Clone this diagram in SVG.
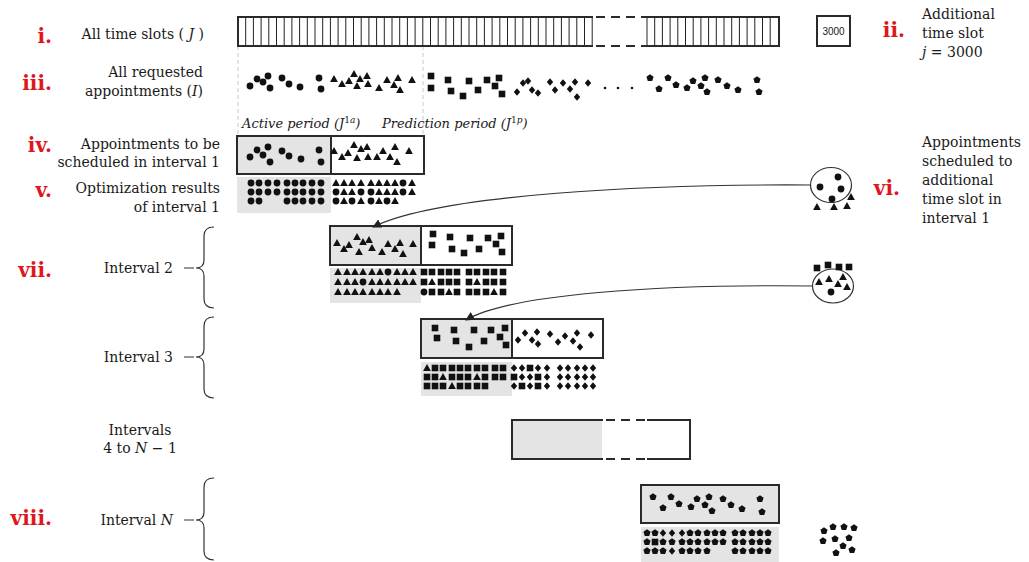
<svg xmlns="http://www.w3.org/2000/svg" xmlns:xlink="http://www.w3.org/1999/xlink" width="1029" height="562" viewBox="0 0 1029 562">
<style>
.lbl{font-family:"DejaVu Serif","Liberation Serif",serif;font-size:14px;fill:#1a1a1a}
.it{font-style:italic}
.red{font-family:"DejaVu Serif","Liberation Serif",serif;font-size:20px;font-weight:bold;fill:#e0161d}
.box{fill:none;stroke:#2a2a2a;stroke-width:2}
.grey{fill:#e4e4e4;stroke:none}
.tick{stroke:#222;stroke-width:1;fill:none}
.dash{stroke:#2a2a2a;stroke-width:2;stroke-dasharray:9 6;fill:none}
.guide{stroke:#c8c8c8;stroke-width:1;stroke-dasharray:4 3;fill:none}
.mk{fill:#111}
.conn{fill:none;stroke:#333;stroke-width:1.1}
.brace{fill:none;stroke:#333;stroke-width:1.2}
.ell{fill:#fff;stroke:#333;stroke-width:1.2}
</style>
<defs>
<circle id="c" r="3.4"/>
<path id="t" d="M0,-3.9 L3.9,3 L-3.9,3Z"/>
<rect id="s" x="-3.3" y="-3.3" width="6.6" height="6.6"/>
<path id="d" d="M0,-3.8 L3.2,0 L0,3.8 L-3.2,0Z"/>
<path id="p" d="M0,-3.8 L3.6,-1.2 L2.2,3.1 L-2.2,3.1 L-3.6,-1.2Z"/>
<circle id="dot" r="1.3"/>
<marker id="arr" viewBox="0 0 10 10" refX="9" refY="5" markerWidth="9" markerHeight="9" orient="auto" markerUnits="userSpaceOnUse"><path d="M0,0 L10,5 L0,10Z" fill="#222"/></marker>
</defs>
<rect width="1029" height="562" fill="#fff"/>

<!-- left labels -->
<g id="labels">
<text class="red" x="52" y="43" text-anchor="end">i.</text>
<text class="lbl" x="204" y="39" text-anchor="end">All time slots ( <tspan class="it">J</tspan> )</text>
<text class="red" x="52" y="90" text-anchor="end">iii.</text>
<text class="lbl" x="203" y="77" text-anchor="end">All requested</text>
<text class="lbl" x="203" y="96" text-anchor="end">appointments (<tspan class="it">I</tspan>)</text>
<text class="red" x="52" y="152" text-anchor="end">iv.</text>
<text class="lbl" x="220" y="149" text-anchor="end">Appointments to be</text>
<text class="lbl" x="220" y="167" text-anchor="end">scheduled in interval 1</text>
<text class="red" x="52" y="197" text-anchor="end">v.</text>
<text class="lbl" x="220" y="193" text-anchor="end">Optimization results</text>
<text class="lbl" x="220" y="212" text-anchor="end">of interval 1</text>
<text class="red" x="52" y="277" text-anchor="end">vii.</text>
<text class="lbl" x="173" y="273" text-anchor="end">Interval 2</text>
<text class="lbl" x="173" y="362" text-anchor="end">Interval 3</text>
<text class="lbl" x="140" y="435" text-anchor="middle">Intervals</text>
<text class="lbl" x="140" y="453" text-anchor="middle">4 to <tspan class="it">N</tspan> − 1</text>
<text class="red" x="52" y="525" text-anchor="end">viii.</text>
<text class="lbl" x="173" y="525" text-anchor="end">Interval <tspan class="it">N</tspan></text>
<text class="red" x="905" y="37" text-anchor="end">ii.</text>
<text class="lbl" x="922" y="19">Additional</text>
<text class="lbl" x="922" y="38">time slot</text>
<text class="lbl" x="922" y="57"><tspan class="it">j</tspan> = 3000</text>
<text class="red" x="900" y="195" text-anchor="end">vi.</text>
<text class="lbl" x="922" y="147">Appointments</text>
<text class="lbl" x="922" y="166">scheduled to</text>
<text class="lbl" x="922" y="185">additional</text>
<text class="lbl" x="922" y="204">time slot in</text>
<text class="lbl" x="922" y="223">interval 1</text>
<text class="lbl it" x="242" y="128" style="font-size:13px">Active period  (J<tspan dy="-5" style="font-size:9px;font-style:normal">1</tspan><tspan dy="0" style="font-size:9px">a</tspan><tspan dy="5">)</tspan></text>
<text class="lbl it" x="382" y="128" style="font-size:13px">Prediction period  (J<tspan dy="-5" style="font-size:9px;font-style:normal">1</tspan><tspan dy="0" style="font-size:9px">p</tspan><tspan dy="5">)</tspan></text>
</g>

<!-- braces -->
<g id="braces">
<path class="brace" d="M184,268 H194 M214,227 Q204,227 204,236 V260 Q204,268 196,268 Q204,268 204,276 V299 Q204,308 214,308"/>
<path class="brace" d="M184,357 H194 M214,317 Q204,317 204,326 V349 Q204,357 196,357 Q204,357 204,365 V389 Q204,398 214,398"/>
<path class="brace" d="M184,520 H194 M214,478 Q204,478 204,487 V512 Q204,520 196,520 Q204,520 204,528 V551 Q204,560 214,560"/>
</g>

<!-- guides -->
<g id="guides">
<path class="guide" d="M238,46 V136 M423,46 V136"/>
</g>

<!-- i. time slots bar -->
<g id="timeslots">
<path class="tick" d="M245.7,17V46M253.4,17V46M261.1,17V46M268.8,17V46M276.5,17V46M284.2,17V46M291.9,17V46M299.6,17V46M307.3,17V46M315,17V46M322.7,17V46M330.4,17V46M338.1,17V46M345.8,17V46M353.5,17V46M361.2,17V46M368.9,17V46M376.6,17V46M384.3,17V46M392,17V46M399.7,17V46M407.4,17V46M415.1,17V46M422.8,17V46M430.5,17V46M438.2,17V46M445.9,17V46M453.6,17V46M461.3,17V46M469,17V46M476.7,17V46M484.4,17V46M492.1,17V46M499.8,17V46M507.5,17V46M515.2,17V46M522.9,17V46M530.6,17V46M538.3,17V46M546,17V46M553.7,17V46M561.4,17V46M569.1,17V46M576.8,17V46M584.5,17V46M592.2,17V46"/>
<path class="tick" d="M647,17V46M654.7,17V46M662.4,17V46M670.1,17V46M677.8,17V46M685.5,17V46M693.2,17V46M700.9,17V46M708.6,17V46M716.3,17V46M724,17V46M731.7,17V46M739.4,17V46M747.1,17V46M754.8,17V46M762.5,17V46M770.2,17V46"/>
<path class="box" d="M593,17 H238 V46 H593 M647,17 H779 V46 H647"/>
<path class="dash" d="M596,17 H647 M596,46 H647"/>
</g>

<g id="slot3000">
<rect class="box" x="817" y="16" width="33" height="30"/>
<text x="833.5" y="35" text-anchor="middle" style="font-family:'Liberation Sans',Arial,sans-serif;font-size:10px;fill:#1a1a1a">3000</text>
</g>

<!-- iii. all requested appointments -->
<g id="requested" class="mk">
<use href="#c" x="250" y="86"/><use href="#c" x="257" y="79"/><use href="#c" x="263" y="82"/><use href="#c" x="268" y="76"/><use href="#c" x="270" y="88"/><use href="#c" x="282" y="78"/><use href="#c" x="289" y="84"/><use href="#c" x="300" y="87"/><use href="#c" x="319" y="78"/><use href="#c" x="321" y="89"/>
<use href="#t" x="334" y="79"/><use href="#t" x="342" y="84"/><use href="#t" x="349" y="81"/><use href="#t" x="354" y="74"/><use href="#t" x="357" y="86"/><use href="#t" x="360" y="79"/><use href="#t" x="367" y="76"/><use href="#t" x="368" y="84"/><use href="#t" x="379" y="88"/><use href="#t" x="387" y="80"/><use href="#t" x="394" y="85"/><use href="#t" x="398" y="78"/><use href="#t" x="400" y="90"/><use href="#t" x="412" y="80"/>
<use href="#s" x="431" y="76"/><use href="#s" x="431" y="88"/><use href="#s" x="448" y="80"/><use href="#s" x="451" y="91"/><use href="#s" x="463" y="96"/><use href="#s" x="469" y="81"/><use href="#s" x="478" y="90"/><use href="#s" x="487" y="80"/><use href="#s" x="495" y="86"/><use href="#s" x="499" y="78"/><use href="#s" x="502" y="94"/>
<use href="#d" x="517" y="92"/><use href="#d" x="523" y="83"/><use href="#d" x="528" y="81"/><use href="#d" x="532" y="90"/><use href="#d" x="538" y="93"/><use href="#d" x="550" y="82"/><use href="#d" x="555" y="90"/><use href="#d" x="563" y="83"/><use href="#d" x="570" y="89"/><use href="#d" x="575" y="82"/><use href="#d" x="577" y="97"/><use href="#d" x="588" y="83"/>
<use href="#dot" x="605" y="88"/><use href="#dot" x="618" y="88"/><use href="#dot" x="632" y="88"/>
<use href="#p" x="650" y="78"/><use href="#p" x="659" y="89"/><use href="#p" x="668" y="78"/><use href="#p" x="676" y="85"/><use href="#p" x="687" y="88"/><use href="#p" x="693" y="81"/><use href="#p" x="701" y="86"/><use href="#p" x="705" y="78"/><use href="#p" x="707" y="92"/><use href="#p" x="718" y="80"/><use href="#p" x="727" y="86"/><use href="#p" x="738" y="90"/><use href="#p" x="757" y="80"/><use href="#p" x="759" y="92"/>
</g>

<!-- iv. interval 1 -->
<g id="interval1">
<rect class="grey" x="237" y="136" width="94" height="38"/>
<rect class="grey" x="237" y="177" width="94" height="36"/>
<rect class="box" x="237" y="136" width="187" height="38"/>
<path class="box" d="M331,136 V174"/>
<g class="mk">
<use href="#c" x="250" y="157"/><use href="#c" x="257" y="150"/><use href="#c" x="263" y="155"/><use href="#c" x="268" y="147"/><use href="#c" x="270" y="162"/><use href="#c" x="282" y="151"/><use href="#c" x="289" y="156"/><use href="#c" x="301" y="159"/><use href="#c" x="319" y="150"/><use href="#c" x="321" y="162"/>
<use href="#t" x="334" y="151"/><use href="#t" x="342" y="157"/><use href="#t" x="348" y="153"/><use href="#t" x="354" y="145"/><use href="#t" x="357" y="158"/><use href="#t" x="361" y="149"/><use href="#t" x="367" y="147"/><use href="#t" x="368" y="157"/><use href="#t" x="377" y="157"/><use href="#t" x="383" y="151"/><use href="#t" x="390" y="157"/><use href="#t" x="395" y="147"/><use href="#t" x="397" y="162"/><use href="#t" x="409" y="151"/>
<!-- v. results -->
<use href="#c" x="251" y="183"/><use href="#c" x="259" y="183"/><use href="#c" x="268" y="183"/><use href="#c" x="277" y="183"/><use href="#c" x="287" y="183"/><use href="#c" x="295" y="183"/><use href="#c" x="303" y="183"/><use href="#c" x="312" y="183"/><use href="#c" x="321" y="183"/>
<use href="#c" x="251" y="192"/><use href="#c" x="259" y="192"/><use href="#c" x="268" y="192"/><use href="#c" x="277" y="192"/><use href="#c" x="287" y="192"/><use href="#c" x="295" y="192"/><use href="#c" x="303" y="192"/><use href="#c" x="312" y="192"/><use href="#c" x="321" y="192"/>
<use href="#c" x="251" y="201"/><use href="#c" x="259" y="201"/><use href="#c" x="287" y="201"/><use href="#c" x="295" y="201"/><use href="#c" x="303" y="201"/><use href="#c" x="312" y="201"/><use href="#c" x="321" y="201"/>
<use href="#t" x="336" y="183"/><use href="#t" x="344" y="183"/><use href="#t" x="352" y="183"/><use href="#t" x="361" y="183"/><use href="#t" x="371" y="183"/><use href="#t" x="379" y="183"/><use href="#t" x="387" y="183"/><use href="#t" x="395" y="183"/><use href="#c" x="403" y="183"/><use href="#t" x="412" y="183"/>
<use href="#c" x="336" y="192"/><use href="#t" x="344" y="192"/><use href="#t" x="352" y="192"/><use href="#c" x="361" y="192"/><use href="#c" x="371" y="192"/><use href="#t" x="379" y="192"/><use href="#t" x="387" y="192"/><use href="#t" x="395" y="192"/><use href="#c" x="403" y="192"/><use href="#t" x="412" y="192"/>
<use href="#c" x="336" y="201"/><use href="#t" x="344" y="201"/><use href="#c" x="352" y="201"/><use href="#t" x="361" y="201"/><use href="#c" x="371" y="201"/><use href="#t" x="379" y="201"/><use href="#c" x="387" y="201"/><use href="#t" x="395" y="201"/>
</g>
</g>

<!-- vii. interval 2 -->
<g id="interval2">
<rect class="grey" x="330" y="226" width="91" height="39"/>
<rect class="grey" x="330" y="268" width="91" height="35"/>
<rect class="box" x="330" y="226" width="182" height="39"/>
<path class="box" d="M421,226 V265"/>
<g class="mk">
<use href="#t" x="337" y="243"/><use href="#t" x="344" y="249"/><use href="#t" x="349" y="245"/><use href="#t" x="357" y="237"/><use href="#t" x="359" y="252"/><use href="#t" x="363" y="242"/><use href="#t" x="369" y="240"/><use href="#t" x="372" y="248"/><use href="#t" x="382" y="252"/><use href="#t" x="388" y="244"/><use href="#t" x="395" y="249"/><use href="#t" x="400" y="243"/><use href="#t" x="403" y="254"/><use href="#t" x="413" y="244"/>
<use href="#s" x="433" y="234"/><use href="#s" x="432" y="245"/><use href="#s" x="450" y="237"/><use href="#s" x="452" y="249"/><use href="#s" x="464" y="253"/><use href="#s" x="470" y="238"/><use href="#s" x="479" y="249"/><use href="#s" x="488" y="238"/><use href="#s" x="496" y="244"/><use href="#s" x="501" y="236"/><use href="#s" x="502" y="252"/>
<use href="#t" x="338" y="272"/><use href="#t" x="347" y="272"/><use href="#t" x="355" y="272"/><use href="#t" x="363" y="272"/><use href="#t" x="372" y="272"/><use href="#t" x="380" y="272"/><use href="#c" x="388" y="272"/><use href="#t" x="397" y="272"/><use href="#t" x="405" y="272"/><use href="#t" x="413" y="272"/>
<use href="#t" x="338" y="282"/><use href="#t" x="347" y="282"/><use href="#t" x="355" y="282"/><use href="#c" x="363" y="282"/><use href="#t" x="372" y="282"/><use href="#t" x="380" y="282"/><use href="#t" x="388" y="282"/><use href="#t" x="397" y="282"/><use href="#t" x="405" y="282"/><use href="#t" x="413" y="282"/>
<use href="#t" x="338" y="292"/><use href="#t" x="347" y="292"/><use href="#t" x="355" y="292"/><use href="#t" x="363" y="292"/><use href="#t" x="372" y="292"/><use href="#t" x="380" y="292"/><use href="#t" x="388" y="292"/><use href="#t" x="397" y="292"/>
<use href="#s" x="424" y="272"/><use href="#s" x="432" y="272"/><use href="#s" x="441" y="272"/><use href="#s" x="449" y="272"/><use href="#s" x="457" y="272"/><use href="#s" x="469" y="272"/><use href="#s" x="477" y="272"/><use href="#s" x="486" y="272"/><use href="#s" x="494" y="272"/><use href="#s" x="503" y="272"/>
<use href="#s" x="424" y="282"/><use href="#t" x="432" y="282"/><use href="#s" x="441" y="282"/><use href="#s" x="449" y="282"/><use href="#s" x="457" y="282"/><use href="#s" x="469" y="282"/><use href="#t" x="477" y="282"/><use href="#s" x="486" y="282"/><use href="#s" x="494" y="282"/><use href="#s" x="503" y="282"/>
<use href="#c" x="424" y="292"/><use href="#s" x="432" y="292"/><use href="#s" x="441" y="292"/><use href="#t" x="449" y="292"/><use href="#s" x="457" y="292"/><use href="#s" x="469" y="292"/><use href="#s" x="477" y="292"/><use href="#s" x="486" y="292"/><use href="#t" x="494" y="292"/><use href="#s" x="503" y="292"/>
</g>
</g>

<!-- interval 3 -->
<g id="interval3">
<rect class="grey" x="421" y="319" width="91" height="39"/>
<rect class="grey" x="421" y="362" width="91" height="34"/>
<rect class="box" x="421" y="319" width="182" height="39"/>
<path class="box" d="M512,319 V358"/>
<g class="mk">
<use href="#s" x="435" y="328"/><use href="#s" x="437" y="338"/><use href="#s" x="454" y="330"/><use href="#s" x="456" y="341"/><use href="#s" x="469" y="347"/><use href="#s" x="474" y="330"/><use href="#s" x="484" y="341"/><use href="#s" x="491" y="330"/><use href="#s" x="500" y="337"/><use href="#s" x="505" y="328"/><use href="#s" x="506" y="345"/>
<use href="#d" x="518" y="340"/><use href="#d" x="525" y="333"/><use href="#d" x="532" y="340"/><use href="#d" x="537" y="332"/><use href="#d" x="538" y="344"/><use href="#d" x="550" y="334"/><use href="#d" x="558" y="342"/><use href="#d" x="565" y="336"/><use href="#d" x="573" y="341"/><use href="#d" x="577" y="333"/><use href="#d" x="580" y="347"/><use href="#d" x="591" y="335"/>
<use href="#t" x="427" y="368"/><use href="#s" x="435" y="368"/><use href="#s" x="443" y="368"/><use href="#s" x="452" y="368"/><use href="#s" x="460" y="368"/><use href="#s" x="468" y="368"/><use href="#s" x="477" y="368"/><use href="#s" x="485" y="368"/><use href="#s" x="495" y="368"/><use href="#s" x="503" y="368"/>
<use href="#s" x="427" y="377"/><use href="#s" x="435" y="377"/><use href="#t" x="443" y="377"/><use href="#s" x="452" y="377"/><use href="#s" x="460" y="377"/><use href="#s" x="468" y="377"/><use href="#t" x="477" y="377"/><use href="#s" x="485" y="377"/><use href="#s" x="495" y="377"/><use href="#s" x="503" y="377"/>
<use href="#s" x="427" y="386"/><use href="#s" x="435" y="386"/><use href="#s" x="443" y="386"/><use href="#t" x="452" y="386"/><use href="#s" x="460" y="386"/><use href="#s" x="468" y="386"/><use href="#s" x="477" y="386"/><use href="#s" x="485" y="386"/>
<use href="#d" x="514" y="368"/><use href="#d" x="522" y="368"/><use href="#s" x="530" y="368"/><use href="#d" x="538" y="368"/><use href="#d" x="547" y="368"/><use href="#d" x="560" y="368"/><use href="#d" x="568" y="368"/><use href="#d" x="577" y="368"/><use href="#d" x="585" y="368"/><use href="#d" x="593" y="368"/>
<use href="#s" x="514" y="377"/><use href="#d" x="522" y="377"/><use href="#d" x="530" y="377"/><use href="#s" x="538" y="377"/><use href="#d" x="547" y="377"/><use href="#d" x="560" y="377"/><use href="#d" x="568" y="377"/><use href="#d" x="577" y="377"/><use href="#d" x="585" y="377"/><use href="#d" x="593" y="377"/>
<use href="#d" x="514" y="386"/><use href="#s" x="522" y="386"/><use href="#d" x="530" y="386"/><use href="#s" x="538" y="386"/><use href="#d" x="547" y="386"/><use href="#d" x="560" y="386"/><use href="#d" x="568" y="386"/><use href="#d" x="577" y="386"/><use href="#d" x="585" y="386"/><use href="#d" x="593" y="386"/>
</g>
</g>

<!-- intervals 4 to N-1 -->
<g id="intervals4">
<rect class="grey" x="512" y="420" width="90" height="39"/>
<path class="box" d="M603,420 H512 V459 H603 M647,420 H690 V459 H647"/>
<path class="dash" d="M606,420 H647 M606,459 H647"/>
</g>

<!-- viii. interval N -->
<g id="intervalN">
<rect class="grey" x="641" y="485" width="138" height="38"/>
<rect class="grey" x="641" y="527" width="138" height="35"/>
<rect class="box" x="641" y="485" width="138" height="38"/>
<g class="mk">
<use href="#p" x="653" y="497"/><use href="#p" x="663" y="508"/><use href="#p" x="671" y="497"/><use href="#p" x="679" y="504"/><use href="#p" x="691" y="507"/><use href="#p" x="697" y="499"/><use href="#p" x="705" y="505"/><use href="#p" x="709" y="497"/><use href="#p" x="712" y="511"/><use href="#p" x="723" y="499"/><use href="#p" x="731" y="505"/><use href="#p" x="742" y="509"/><use href="#p" x="760" y="499"/><use href="#p" x="762" y="512"/>
<use href="#p" x="647" y="533"/><use href="#p" x="655" y="533"/><use href="#d" x="663" y="533"/><use href="#d" x="672" y="533"/><use href="#d" x="682" y="533"/><use href="#p" x="690" y="533"/><use href="#p" x="698" y="533"/><use href="#p" x="707" y="533"/><use href="#p" x="715" y="533"/><use href="#p" x="723" y="533"/><use href="#p" x="735" y="533"/><use href="#p" x="743" y="533"/><use href="#p" x="752" y="533"/><use href="#p" x="760" y="533"/><use href="#p" x="768" y="533"/>
<use href="#p" x="647" y="542"/><use href="#s" x="655" y="542"/><use href="#p" x="663" y="542"/><use href="#p" x="672" y="542"/><use href="#p" x="682" y="542"/><use href="#p" x="690" y="542"/><use href="#p" x="698" y="542"/><use href="#p" x="707" y="542"/><use href="#p" x="715" y="542"/><use href="#p" x="723" y="542"/><use href="#p" x="735" y="542"/><use href="#p" x="743" y="542"/><use href="#p" x="752" y="542"/><use href="#p" x="760" y="542"/><use href="#p" x="768" y="542"/>
<use href="#p" x="647" y="551"/><use href="#p" x="655" y="551"/><use href="#p" x="663" y="551"/><use href="#d" x="672" y="551"/><use href="#p" x="682" y="551"/><use href="#p" x="690" y="551"/><use href="#p" x="698" y="551"/><use href="#p" x="707" y="551"/><use href="#p" x="735" y="551"/><use href="#p" x="743" y="551"/><use href="#p" x="752" y="551"/><use href="#p" x="760" y="551"/><use href="#p" x="768" y="551"/>
</g>
</g>

<g id="leftoverN" class="mk">
<use href="#p" x="824" y="531"/><use href="#p" x="833" y="527"/><use href="#p" x="844" y="527"/><use href="#p" x="854" y="528"/><use href="#p" x="823" y="541"/><use href="#p" x="835" y="539"/><use href="#p" x="849" y="538"/><use href="#p" x="843" y="546"/><use href="#p" x="852" y="550"/><use href="#p" x="836" y="553"/>
</g>

<!-- connectors -->
<g id="connectors">
<path class="conn" marker-end="url(#arr)" d="M810.5,185 C650,184 440,194 373,227"/>
<path class="conn" marker-end="url(#arr)" d="M812.5,286 C660,284 510,294 466,320"/>
</g>

<!-- vi. additional slot ellipses -->
<g id="extra1">
<ellipse class="ell" cx="831" cy="185" rx="20.5" ry="17.5"/>
<g class="mk">
<use href="#c" x="838" y="177"/><use href="#c" x="820" y="187"/><use href="#c" x="841" y="189"/><use href="#c" x="832" y="199"/>
<use href="#t" x="817" y="207"/><use href="#t" x="834" y="207"/><use href="#t" x="847" y="206"/><use href="#t" x="851" y="197"/>
</g>
</g>
<g id="extra2">
<ellipse class="ell" cx="833" cy="286" rx="20.5" ry="17"/>
<g class="mk">
<use href="#s" x="817" y="268"/><use href="#s" x="828" y="265"/><use href="#s" x="839" y="267"/><use href="#s" x="849" y="267"/>
<use href="#t" x="819" y="282"/><use href="#t" x="829" y="279"/><use href="#t" x="838" y="284"/><use href="#t" x="843" y="277"/><use href="#t" x="847" y="287"/>
<use href="#c" x="831" y="292"/>
</g>
</g>
</svg>
